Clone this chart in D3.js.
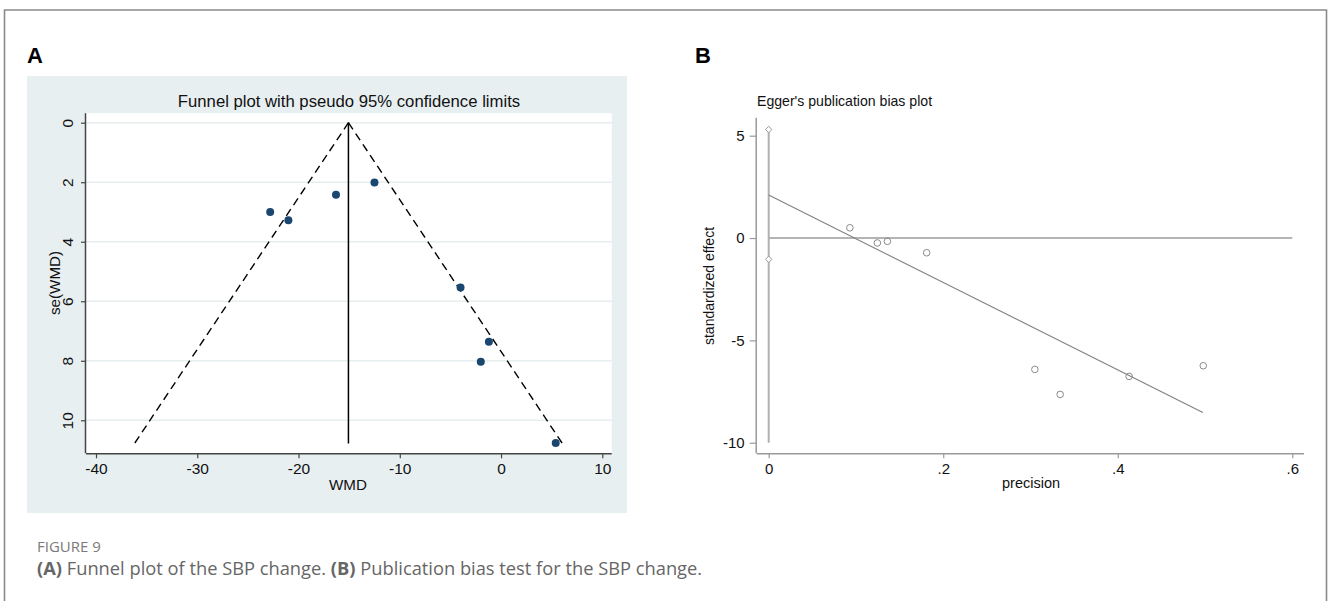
<!DOCTYPE html>
<html><head><meta charset="utf-8">
<script src="https://cdn.jsdelivr.net/npm/d3@7"></script>
<style>
body{margin:0;background:#fff;}
svg{display:block;}
</style></head>
<body><svg id="c" width="1328" height="601"></svg>
<script>
// ---- Panel A: funnel plot data ----
const funnelWMD = [-22.8, -21.0, -16.3, -12.5, -4.0, -1.2, -2.0, 5.4];
const funnelSE  = [3.0, 3.28, 2.42, 2.01, 5.54, 7.36, 8.03, 10.76];
const pooledWMD = -15.07;
const funnelSEMax = 10.78;
const funnelXTicks = [-40, -30, -20, -10, 0, 10];
const funnelYTicks = [0, 2, 4, 6, 8, 10];

// ---- Panel B: Egger plot data ----
const eggerPrecision = [0.093, 0.1245, 0.136, 0.181, 0.305, 0.334, 0.413, 0.498];
const eggerEffect    = [0.50, -0.24, -0.16, -0.72, -6.42, -7.64, -6.76, -6.24];
const eggerFitX = [0, 0.4975];
const eggerFitY = [2.1, -8.53];
const eggerCILine = [-10, 5.3];
const eggerCIMarks = [5.3, -1.04];
const eggerXTicks = [0, 0.2, 0.4, 0.6];
const eggerXLabels = ["0", ".2", ".4", ".6"];
const eggerYTicks = [-10, -5, 0, 5];

const svg = d3.select("#c");
const FONT = "'Liberation Sans', Arial, sans-serif";
const plain = d => String(d);

// outer border
svg.append("path").attr("d","M4.5,601 V10 H1326.5 V601")
  .attr("fill","none").attr("stroke","#8a8a8a").attr("stroke-width",1.6);

// panel letters
svg.append("text").attr("x",27).attr("y",63).text("A")
  .attr("font-family",FONT).attr("font-weight","bold").attr("font-size",22).attr("fill","#000");
svg.append("text").attr("x",695).attr("y",62.5).text("B")
  .attr("font-family",FONT).attr("font-weight","bold").attr("font-size",22).attr("fill","#000");

// ================= Panel A =================
const gA = svg.append("g");
gA.append("rect").attr("x",27).attr("y",76).attr("width",600).attr("height",437).attr("fill","#e8eff1");
const plotA = {left:86, right:611.7, top:113.3, bottom:453.3};
gA.append("rect").attr("x",plotA.left).attr("y",plotA.top)
  .attr("width",plotA.right-plotA.left).attr("height",plotA.bottom-plotA.top).attr("fill","#fff");

const xA = d3.scaleLinear().domain([-40,10]).range([96,602.3]);
const yA = d3.scaleLinear().domain([0,10]).range([122.7,420.3]);

// gridlines
gA.selectAll("line.grid").data(funnelYTicks).join("line")
  .attr("x1",plotA.left).attr("x2",plotA.right)
  .attr("y1",d=>yA(d)).attr("y2",d=>yA(d))
  .attr("stroke","#e6eef0").attr("stroke-width",1.5);

gA.append("text").attr("x",349).attr("y",106.5).attr("text-anchor","middle")
  .attr("font-family",FONT).attr("font-size",16.7).attr("fill","#111")
  .text("Funnel plot with pseudo 95% confidence limits");

// axes
const axA_x = gA.append("g").attr("transform",`translate(0,${plotA.bottom})`)
  .call(d3.axisBottom(xA).tickValues(funnelXTicks).tickSize(5).tickPadding(3).tickFormat(plain));
axA_x.select(".domain").attr("d",`M${plotA.left},0.5H${plotA.right}`);
const axA_y = gA.append("g").attr("transform",`translate(${plotA.left},0)`)
  .call(d3.axisLeft(yA).tickValues(funnelYTicks).tickSize(5).tickFormat(plain));
axA_y.select(".domain").attr("d",`M-0.5,${plotA.top}V${plotA.bottom}`);
[axA_x, axA_y].forEach(a=>{
  a.select(".domain").attr("stroke","#444").attr("stroke-width",1.5);
  a.selectAll(".tick line").attr("stroke","#444").attr("stroke-width",1.2);
  a.selectAll(".tick text").attr("font-family",FONT).attr("font-size",15.5).attr("fill","#111");
});
axA_x.selectAll(".tick text").attr("dy","0.75em").attr("y",9);
axA_y.selectAll(".tick text").attr("transform","rotate(-90)").attr("x",0).attr("y",-13)
  .attr("dy",0).attr("text-anchor","middle");

gA.append("text").attr("x",348).attr("y",490).attr("text-anchor","middle")
  .attr("font-family",FONT).attr("font-size",15.2).attr("fill","#111").text("WMD");
gA.append("text").attr("transform","translate(60,283) rotate(-90)").attr("text-anchor","middle")
  .attr("font-family",FONT).attr("font-size",15.2).attr("fill","#111").text("se(WMD)");

// funnel lines
gA.append("line").attr("x1",xA(pooledWMD)).attr("x2",xA(pooledWMD))
  .attr("y1",yA(0)).attr("y2",yA(funnelSEMax)).attr("stroke","#000").attr("stroke-width",1.5);
[-1,1].forEach(s=>{
  gA.append("line").attr("x1",xA(pooledWMD)).attr("y1",yA(0))
    .attr("x2",xA(pooledWMD + s*1.96*funnelSEMax)).attr("y2",yA(funnelSEMax))
    .attr("stroke","#000").attr("stroke-width",1.4).attr("stroke-dasharray","8,5");
});
gA.selectAll("circle.pt").data(funnelWMD).join("circle")
  .attr("cx",d=>xA(d)).attr("cy",(d,i)=>yA(funnelSE[i])).attr("r",4).attr("fill","#1a476f");

// ================= Panel B =================
const gB = svg.append("g");
const xB = d3.scaleLinear().domain([0,0.6]).range([768.7,1292.3]);
const yB = d3.scaleLinear().domain([-10,5]).range([442.7,135.7]);
const plotB = {left:756.7, right:1304, top:117.7, bottom:453.3};

gB.append("text").attr("x",757).attr("y",105.5)
  .attr("font-family",FONT).attr("font-size",14.1).attr("fill","#111").text("Egger's publication bias plot");

const axB_x = gB.append("g").attr("transform",`translate(0,${plotB.bottom})`)
  .call(d3.axisBottom(xB).tickValues(eggerXTicks).tickSize(5).tickFormat((d,i)=>eggerXLabels[i]));
axB_x.select(".domain").attr("d",`M${plotB.left},0.5H${plotB.right}`);
const axB_y = gB.append("g").attr("transform",`translate(${plotB.left},0)`)
  .call(d3.axisLeft(yB).tickValues(eggerYTicks).tickSize(7).tickPadding(5).tickFormat(plain));
axB_y.select(".domain").attr("d",`M-0.5,${plotB.top}V${plotB.bottom}`);
[axB_x, axB_y].forEach(a=>{
  a.select(".domain").attr("stroke","#9a9a9a").attr("stroke-width",1.5);
  a.selectAll(".tick line").attr("stroke","#9a9a9a").attr("stroke-width",1.2);
  a.selectAll(".tick text").attr("font-family",FONT).attr("font-size",15).attr("fill","#111");
});
axB_x.selectAll(".tick text").attr("dy","0.75em").attr("y",9);

gB.append("text").attr("x",1031).attr("y",488).attr("text-anchor","middle")
  .attr("font-family",FONT).attr("font-size",14.5).attr("fill","#111").text("precision");
gB.append("text").attr("transform","translate(714,286) rotate(-90)").attr("text-anchor","middle")
  .attr("font-family",FONT).attr("font-size",14).attr("fill","#111").text("standardized effect");

// zero line
gB.append("line").attr("x1",xB(0)).attr("x2",xB(0.6)).attr("y1",yB(0)).attr("y2",yB(0))
  .attr("stroke","#b4b4b4").attr("stroke-width",2);
// vertical CI line at precision 0
gB.append("line").attr("x1",xB(0)).attr("x2",xB(0)).attr("y1",yB(eggerCILine[0])).attr("y2",yB(eggerCILine[1]))
  .attr("stroke","#b0b0b0").attr("stroke-width",2);
gB.selectAll("path.dm").data(eggerCIMarks).join("path")
  .attr("d",d=>`M${xB(0)},${yB(d)-3.2}l3.2,3.2l-3.2,3.2l-3.2,-3.2z`)
  .attr("fill","#fff").attr("stroke","#999").attr("stroke-width",1);
// regression line
gB.append("line").attr("x1",xB(eggerFitX[0])).attr("y1",yB(eggerFitY[0]))
  .attr("x2",xB(eggerFitX[1])).attr("y2",yB(eggerFitY[1])).attr("stroke","#808080").attr("stroke-width",1.1);
// points
gB.selectAll("circle.ep").data(eggerPrecision).join("circle")
  .attr("cx",d=>xB(d)).attr("cy",(d,i)=>yB(eggerEffect[i])).attr("r",3.3)
  .attr("fill","none").attr("stroke","#8a8a8a").attr("stroke-width",1);

// ================= Caption =================
const CAP = "'Open Sans', Lato, sans-serif";
svg.append("text").attr("x",37).attr("y",552).attr("font-family",CAP).attr("font-size",15)
  .attr("fill","#7a7a7a").text("FIGURE 9");
const cap = svg.append("text").attr("x",37).attr("y",575).attr("font-family",CAP).attr("font-size",18.3)
  .attr("fill","#666");
cap.append("tspan").attr("font-weight","bold").text("(A)");
cap.append("tspan").text(" Funnel plot of the SBP change. ");
cap.append("tspan").attr("font-weight","bold").text("(B)");
cap.append("tspan").text(" Publication bias test for the SBP change.");
</script></body></html>
